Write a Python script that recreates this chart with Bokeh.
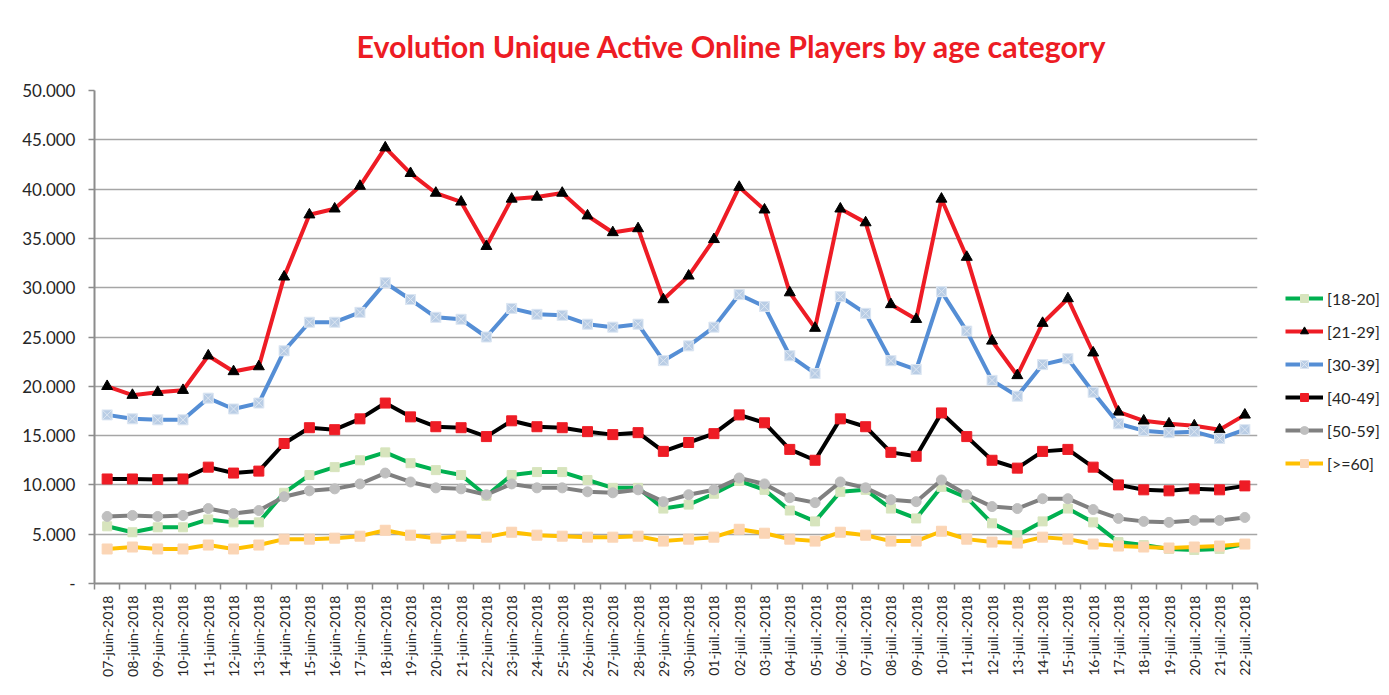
from bokeh.plotting import figure
from bokeh.models import Range1d, FixedTicker, Legend, LegendItem, Div
from bokeh.layouts import column, row
from bokeh.embed import file_html
from bokeh.resources import INLINE
import math

dates = (["%02d-juin-2018" % d for d in range(7, 31)] +
         ["%02d-juil.-2018" % d for d in range(1, 23)])

s18_20 = [5800, 5200, 5700, 5700, 6500, 6200, 6200, 9200, 11000, 11800, 12500, 13300,
          12200, 11500, 11000, 8900, 11000, 11300, 11300, 10500, 9700, 9700, 7600, 8000,
          9100, 10400, 9500, 7400, 6300, 9300, 9500, 7600, 6600, 9800, 8700, 6100,
          4900, 6300, 7600, 6200, 4200, 3900, 3500, 3400, 3500, 4000]
s21_29 = [20000, 19100, 19400, 19600, 23100, 21500, 22000, 31100, 37400, 38000, 40300, 44200,
          41600, 39600, 38700, 34200, 39000, 39200, 39600, 37300, 35600, 36000, 28800, 31200,
          34900, 40200, 37900, 29500, 25900, 38000, 36600, 28300, 26800, 39000, 33100, 24600,
          21100, 26400, 28900, 23400, 17400, 16500, 16200, 16000, 15600, 17100]
s30_39 = [17100, 16700, 16600, 16600, 18800, 17700, 18300, 23600, 26500, 26500, 27500, 30500,
          28800, 27000, 26800, 25000, 27900, 27300, 27200, 26300, 26000, 26300, 22600, 24100,
          26000, 29300, 28100, 23100, 21300, 29100, 27400, 22600, 21700, 29600, 25600, 20600,
          19000, 22200, 22800, 19400, 16200, 15500, 15300, 15400, 14700, 15600]
s40_49 = [10600, 10600, 10550, 10600, 11800, 11200, 11400, 14200, 15800, 15600, 16700, 18300,
          16900, 15900, 15800, 14900, 16500, 15900, 15800, 15400, 15100, 15300, 13400, 14300,
          15200, 17100, 16300, 13600, 12500, 16700, 15900, 13300, 12900, 17300, 14900, 12500,
          11700, 13400, 13600, 11800, 10000, 9500, 9400, 9600, 9500, 9900]
s50_59 = [6800, 6900, 6800, 6900, 7600, 7100, 7400, 8800, 9400, 9600, 10100, 11200,
          10300, 9700, 9600, 9000, 10100, 9700, 9700, 9300, 9200, 9500, 8300, 9000,
          9500, 10700, 10100, 8700, 8200, 10300, 9700, 8500, 8300, 10500, 9000, 7800,
          7600, 8600, 8600, 7500, 6600, 6300, 6200, 6400, 6400, 6700]
s60 = [3500, 3700, 3500, 3500, 3900, 3500, 3900, 4500, 4500, 4600, 4800, 5400,
       4900, 4600, 4800, 4700, 5200, 4900, 4800, 4700, 4700, 4800, 4300, 4500,
       4700, 5500, 5100, 4500, 4300, 5200, 4900, 4300, 4300, 5300, 4500, 4200,
       4100, 4700, 4500, 4000, 3800, 3700, 3600, 3700, 3800, 4000]

series_names = ["[18-20]", "[21-29]", "[30-39]", "[40-49]", "[50-59]", "[>=60]"]
y_ticks = [0, 5000, 10000, 15000, 20000, 25000, 30000, 35000, 40000, 45000, 50000]
title_text = "Evolution Unique Active Online Players by age category"

FONT = "Lato"
n = len(dates)
xs = list(range(n))

title_div = Div(
    text=('<div style="width:1373px;text-align:center;padding-left:89px;box-sizing:border-box;'
          'padding-top:28px;font-family:Lato;font-weight:bold;font-size:30.4px;line-height:36px;'
          'color:#ED1C24;white-space:nowrap;">%s</div>' % title_text),
    width=1373, height=78, margin=0)

PH = 601
p = figure(width=1259, height=PH, output_backend="svg", toolbar_location=None,
           x_range=Range1d(-0.5, n - 0.5), y_range=Range1d(0, 50000),
           min_border_left=94, min_border_right=2, min_border_top=12, min_border_bottom=94,
           margin=0)
p.outline_line_color = None
p.background_fill_color = "white"
p.border_fill_color = "white"

# grid
p.xgrid.grid_line_color = None
p.ygrid.grid_line_color = "#A6A6A6"
p.ygrid.grid_line_width = 1.5
p.ygrid.ticker = FixedTicker(ticks=y_ticks)

# y axis
p.yaxis.ticker = FixedTicker(ticks=y_ticks)
p.yaxis.major_label_overrides = {v: ("-" if v == 0 else "%d.000" % (v // 1000)) for v in y_ticks}
p.yaxis.axis_line_color = "#8C8C8C"
p.yaxis.axis_line_width = 2
p.yaxis.major_tick_line_color = "#8C8C8C"
p.yaxis.major_tick_line_width = 1.5
p.yaxis.major_tick_out = 6
p.yaxis.major_tick_in = 0
p.yaxis.minor_tick_line_color = None
p.yaxis.major_label_text_font = FONT
p.yaxis.major_label_text_font_size = "17px"
p.yaxis.major_label_text_color = "#262626"
p.yaxis.major_label_standoff = 13

# x axis: labels at category centers, ticks at category boundaries (minor ticks)
p.xaxis.ticker = FixedTicker(ticks=xs, minor_ticks=[i - 0.5 for i in range(n + 1)])
p.xaxis.major_label_overrides = {i: d for i, d in enumerate(dates)}
p.xaxis.major_label_orientation = math.pi / 2
p.xaxis.axis_line_color = "#8C8C8C"
p.xaxis.axis_line_width = 2
p.xaxis.major_tick_line_color = None
p.xaxis.major_tick_out = 0
p.xaxis.major_tick_in = 0
p.xaxis.minor_tick_line_color = "#8C8C8C"
p.xaxis.minor_tick_line_width = 1.5
p.xaxis.minor_tick_out = 6
p.xaxis.minor_tick_in = 0
p.xaxis.major_label_text_font = FONT
p.xaxis.major_label_text_font_size = "14px"
p.xaxis.major_label_text_color = "#262626"
p.xaxis.major_label_standoff = 6

styles = [
    (s18_20, "#00B050", "square", 9, "#D7E4BD", "#D7E4BD"),
    (s21_29, "#EE1C25", "triangle", 11, "black", "black"),
    (s30_39, "#558ED5", "square_x", 10, "#B9CDE5", "#DCE6F2"),
    (s40_49, "black", "square", 10, "#EE1C25", "#EE1C25"),
    (s50_59, "#808080", "circle", 10, "#BFBFBF", "#BFBFBF"),
    (s60, "#FFC000", "square", 10, "#FBD5B5", "#FBD5B5"),
]

# legend lives in a narrow companion figure whose ranges keep its copies of the data out of view
lf = figure(width=122, height=PH, output_backend="svg", toolbar_location=None,
            x_range=Range1d(-100, -99), y_range=Range1d(-100, -99),
            x_axis_location=None, y_axis_location=None,
            min_border_left=0, min_border_right=0, min_border_top=0, min_border_bottom=0,
            margin=0)
lf.outline_line_color = None
lf.xgrid.grid_line_color = None
lf.ygrid.grid_line_color = None

items = []
for name, (vals, lc, mk, sz, fc, mlc) in zip(series_names, styles):
    p.line(xs, vals, line_color=lc, line_width=4, line_join="round")
    p.scatter(xs, vals, marker=mk, size=sz, fill_color=fc, line_color=mlc, line_width=1)
    lr = lf.line(xs, vals, line_color=lc, line_width=4)
    sr = lf.scatter(xs, vals, marker=mk, size=sz, fill_color=fc, line_color=mlc, line_width=1)
    items.append(LegendItem(label=name, renderers=[lr, sr]))

legend = Legend(items=items, location=(26, 110), orientation="vertical",
                glyph_width=38, glyph_height=20, label_height=20, spacing=13,
                label_standoff=4, padding=0, margin=0,
                label_text_font=FONT, label_text_font_size="16px", label_text_color="#262626",
                border_line_color=None, background_fill_alpha=0)
lf.add_layout(legend, "center")

layout = column(title_div, row(p, lf, spacing=0), spacing=0)
open("out.html", "w").write(file_html(layout, INLINE))
